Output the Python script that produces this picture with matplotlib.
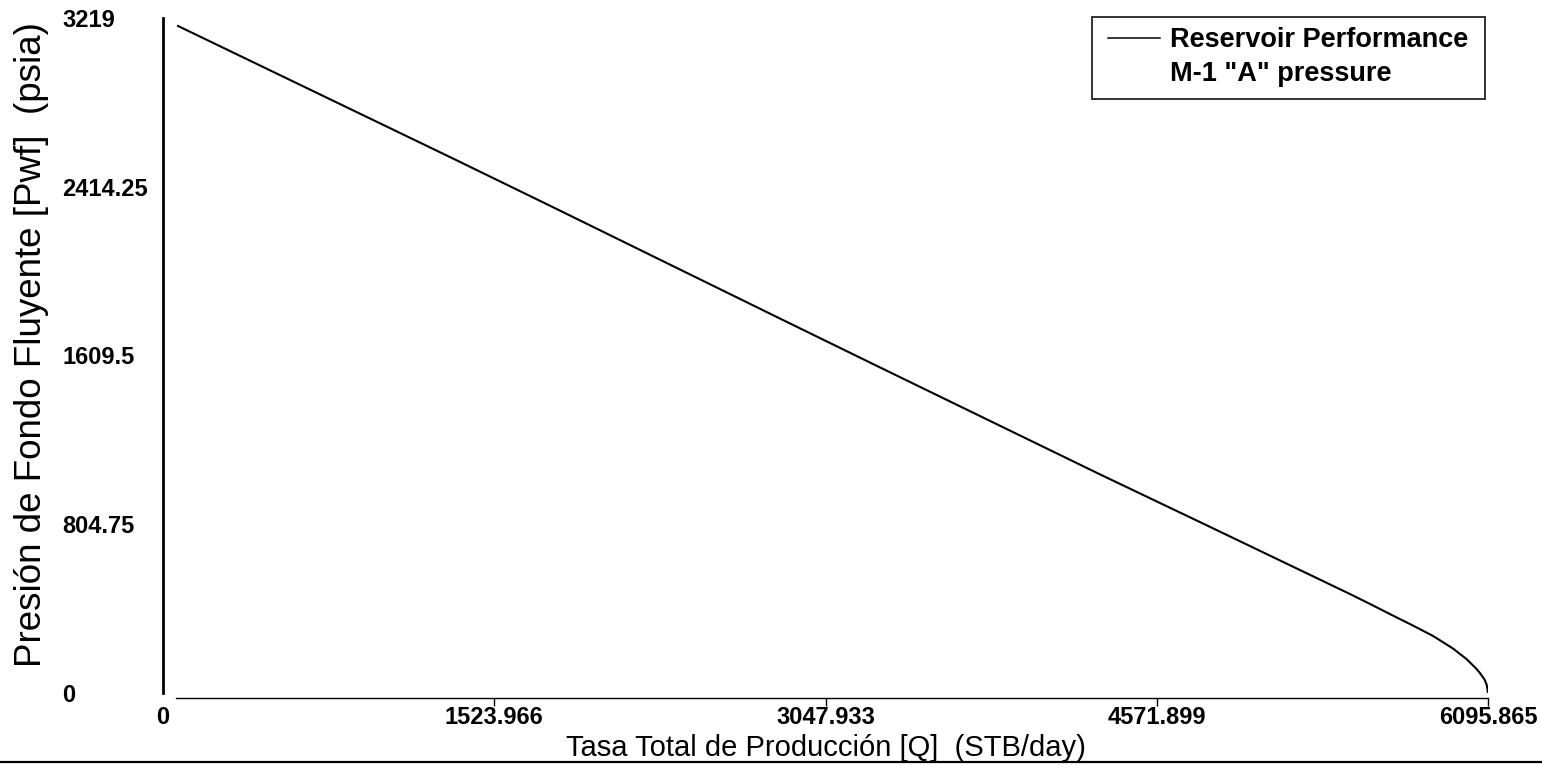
import matplotlib
matplotlib.use("Agg")
import matplotlib.pyplot as plt
from matplotlib.lines import Line2D
from matplotlib.path import Path

# Inflow performance curve: total rate vs. flowing bottom-hole pressure
q_stb_day = [69, 1320, 1774, 2834, 3294, 4308, 4771, 5461, 5560, 5659,
             5750, 5843, 5935, 5999, 6040, 6059, 6080, 6090, 6095.865]
pwf_psia = [3181, 2556, 2327, 1788, 1555, 1044, 815, 472, 421, 369,
            322, 272, 212, 160, 118, 95, 64, 39, 0]

x_ticks = [0, 1523.966, 3047.933, 4571.899, 6095.865]
x_tick_labels = ["0", "1523.966", "3047.933", "4571.899", "6095.865"]
y_ticks = [0, 804.75, 1609.5, 2414.25, 3219]
y_tick_labels = ["0", "804.75", "1609.5", "2414.25", "3219"]

series_label = "Reservoir Performance"
series_note = 'M-1 "A" pressure'
x_title = "Tasa Total de Producción [Q]  (STB/day)"
y_title = "Presión de Fondo Fluyente [Pwf]  (psia)"

plt.rcParams["font.family"] = ["Liberation Sans", "DejaVu Sans"]

W, H = 1542, 765
fig = plt.figure(figsize=(W / 100, H / 100), dpi=100)
fig.patch.set_facecolor("white")

ax_l, ax_r, ax_t, ax_b = 163, 1488, 18, 693
ax = fig.add_axes([ax_l / W, (H - ax_b) / H, (ax_r - ax_l) / W, (ax_b - ax_t) / H])

ax.plot(q_stb_day, pwf_psia, color="black", lw=1.5, label=series_label,
        solid_joinstyle="round")

ax.set_xlim(0, 6095.865)
ax.set_ylim(0, 3219)

# spines
for s in ("top", "right"):
    ax.spines[s].set_visible(False)
ax.spines["left"].set_linewidth(2.0)
ax.spines["bottom"].set_linewidth(1.0)
ax.spines["bottom"].set_position(("outward", 3.6))
ax.spines["bottom"].set_bounds(60, 6095.865)

# x ticks
ax.set_xticks(x_ticks)
ax.set_xticklabels(x_tick_labels, fontsize=17, fontweight="bold")
ax.tick_params(axis="x", direction="out", length=5.5, width=1.0, pad=0)
ax.xaxis.get_major_ticks()[0].tick1line.set_visible(False)

# y ticks, labels left-aligned at a common left edge
ax.set_yticks(y_ticks)
ax.set_yticklabels(y_tick_labels, fontsize=17, fontweight="bold")
ax.tick_params(axis="y", length=0, pad=72.5)
for lbl in ax.get_yticklabels():
    lbl.set_horizontalalignment("left")

ax.set_xlabel(x_title, fontsize=21)
ax.xaxis.set_label_coords(0.5, -0.061)
ax.set_ylabel(y_title, fontsize=26.5)
ax.yaxis.set_label_coords((49 - ax_l) / (ax_r - ax_l), (ax_b - 345) / (ax_b - ax_t))

handles = [Line2D([], [], color="black", lw=1.1),
           Line2D([], [], color="none")]
leg = ax.legend(handles, [series_label, series_note],
                loc="upper right", bbox_to_anchor=(0.9977, 1.0111),
                borderaxespad=0, frameon=True, fancybox=False,
                prop={"size": 19.5, "weight": "bold"},
                handlelength=1.9, handletextpad=0.37, labelspacing=0.3,
                borderpad=0.62)


def legend_frame(x0, y0, width, height, mutation_size):
    # rectangle trimmed vertically so the frame hugs the two text rows
    top_trim, bottom_trim = 6.0, 5.0
    y1 = y0 + height - top_trim
    y0 = y0 + bottom_trim
    x1 = x0 + width
    return Path([(x0, y0), (x1, y0), (x1, y1), (x0, y1), (x0, y0)],
                closed=True)


frame = leg.get_frame()
frame.set_boxstyle(legend_frame)
frame.set_edgecolor("black")
frame.set_linewidth(1.4)

# rule along the bottom of the page
fig.add_artist(Line2D([0, 1], [(H - 762) / H] * 2, transform=fig.transFigure,
                      color="black", lw=1.6))

fig.savefig("out.png", dpi=100, facecolor="white")
